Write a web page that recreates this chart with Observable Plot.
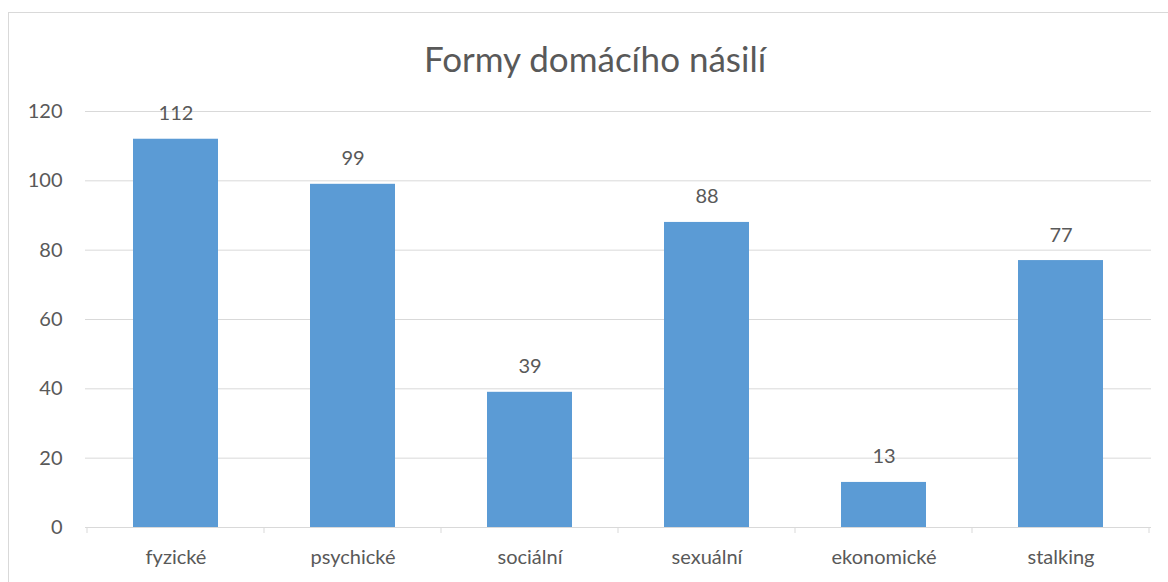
<!DOCTYPE html>
<html>
<head>
<meta charset="utf-8">
<script src="https://cdn.jsdelivr.net/npm/d3@7"></script>
<script src="https://cdn.jsdelivr.net/npm/@observablehq/plot@0.6"></script>
<style>
  html, body { margin: 0; padding: 0; background: #fff; }
  #wrap { position: relative; width: 1168px; height: 582px; overflow: hidden; font-family: Lato, "Open Sans", sans-serif; }
  #frame { position: absolute; left: 8px; top: 12px; width: 1200px; height: 590px; border: 1px solid #d9d9d9; box-sizing: border-box; }
  #title { position: absolute; left: 0; top: 38px; width: 1190px; text-align: center; font-size: 35px; color: #595959; line-height: 40px; }
  #chart { position: absolute; left: 0; top: 90px; }
</style>
</head>
<body>
<div id="wrap">
  <div id="frame"></div>
  <div id="title">Formy domácího násilí</div>
  <div id="chart"></div>
</div>
<script>
const categories = ["fyzické", "psychické", "sociální", "sexuální", "ekonomické", "stalking"];
const values = [112, 99, 39, 88, 13, 77];
const yTicks = [0, 20, 40, 60, 80, 100, 120];

const data = categories.map((c, i) => ({category: c, value: values[i]}));
const textColor = "#595959";
const gridColor = "#d9d9d9";

const boundaryTicks = (index, scales, values, dimensions) => {
  const x = scales.x;
  const y0 = scales.y(0);
  const g = d3.create("svg:g");
  const step = x.step ? x.step() : x.bandwidth();
  const pos = categories.map(c => x(c) - (step - x.bandwidth()) / 2);
  pos.push(x(categories[categories.length - 1]) + x.bandwidth() + (step - x.bandwidth()) / 2);
  for (const p of pos) {
    g.append("line").attr("x1", p).attr("x2", p).attr("y1", y0).attr("y2", y0 + 6)
      .attr("stroke", gridColor).attr("stroke-width", 1);
  }
  return g.node();
};

const chart = Plot.plot({
  width: 1168,
  height: 492,
  marginLeft: 85,
  marginRight: 17,
  marginTop: 21,
  marginBottom: 55,
  style: { fontFamily: "Lato, 'Open Sans', sans-serif", fontSize: "20px", color: textColor, background: "transparent" },
  x: { domain: categories, paddingInner: 0.52, paddingOuter: 0.26, label: null },
  y: { domain: [0, 120], label: null },
  marks: [
    Plot.gridY(yTicks.filter(d => d > 0), { stroke: gridColor, strokeOpacity: 1, strokeWidth: 1 }),
    Plot.axisY({ ticks: yTicks, tickSize: 0, tickPadding: 23, fill: textColor, fontSize: 20, label: null }),
    Plot.barY(data, { x: "category", y: "value", fill: "#5b9bd5" }),
    Plot.ruleY([0], { stroke: gridColor, strokeWidth: 1 }),
    boundaryTicks,
    Plot.axisX({ tickSize: 0, tickPadding: 22, fill: textColor, fontSize: 20, label: null }),
    Plot.text(data, { x: "category", y: "value", text: d => String(d.value), dy: -19, lineAnchor: "bottom", fill: textColor, fontSize: 20 })
  ]
});
document.getElementById("chart").appendChild(chart);
</script>
</body>
</html>
